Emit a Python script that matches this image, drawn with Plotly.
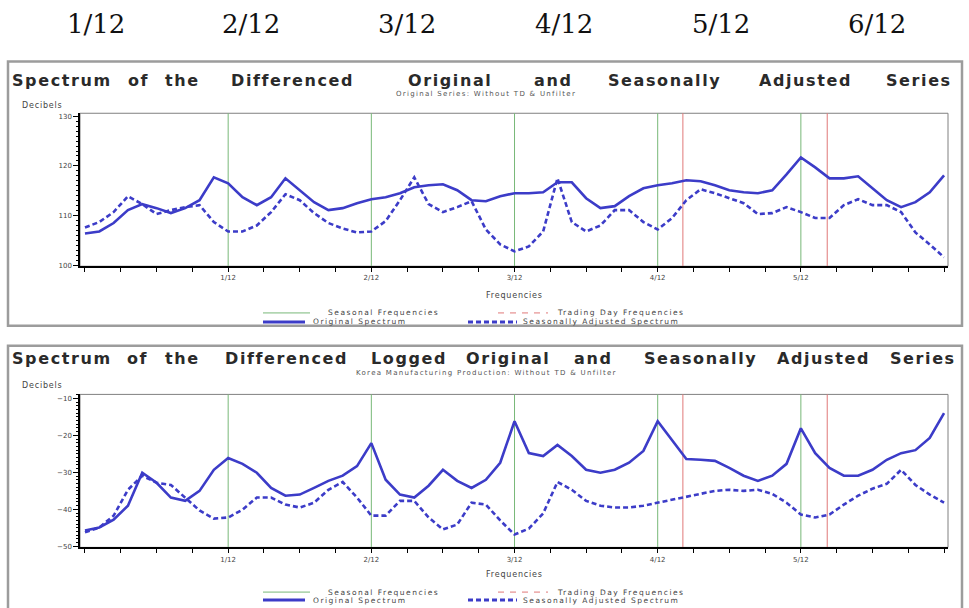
import plotly.graph_objects as go

# ---------------- data ----------------
freq = [round(k / 120, 6) for k in range(61)]

orig_top = [106.4, 106.8, 108.5, 111.1, 112.3, 111.5, 110.5, 111.5, 113.1, 117.7,
            116.5, 113.7, 112.1, 113.7, 117.5, 115.1, 112.7, 111.1, 111.5, 112.5,
            113.3, 113.7, 114.5, 115.7, 116.1, 116.3, 115.1, 113.1, 112.9, 113.9,
            114.5, 114.5, 114.7, 116.7, 116.7, 113.5, 111.5, 111.9, 113.9, 115.5,
            116.1, 116.5, 117.1, 116.9, 116.1, 115.1, 114.7, 114.5, 115.1, 118.3,
            121.7, 119.7, 117.5, 117.5, 117.9, 115.5, 113.1, 111.7, 112.7, 114.7,
            118.1]
sa_top = [107.6, 108.7, 110.7, 113.9, 112.3, 110.3, 111.1, 111.7, 112.1, 108.7,
          106.8, 106.8, 108.0, 110.7, 114.3, 113.1, 110.5, 108.5, 107.4, 106.6,
          106.8, 108.9, 113.1, 117.7, 112.3, 110.7, 111.7, 112.9, 107.2, 104.2,
          102.8, 103.8, 106.8, 117.5, 108.7, 106.8, 108.0, 111.1, 111.1, 108.7,
          107.2, 109.5, 113.1, 115.3, 114.5, 113.5, 112.5, 110.3, 110.5, 111.7,
          110.7, 109.5, 109.5, 112.1, 113.3, 112.1, 112.1, 110.7, 106.6, 104.2,
          101.6]
orig_bot = [-45.7, -44.9, -42.8, -39.0, -30.1, -32.8, -36.8, -37.7, -35.0, -29.3,
            -26.1, -27.7, -30.1, -34.2, -36.3, -36.0, -34.2, -32.3, -30.9, -28.3,
            -22.1, -32.0, -36.0, -36.8, -33.6, -29.3, -32.3, -34.2, -32.0, -27.4,
            -16.2, -24.8, -25.6, -22.6, -25.6, -29.3, -30.1, -29.3, -27.4, -24.2,
            -16.2, -21.3, -26.4, -26.6, -26.9, -28.8, -30.9, -32.3, -30.9, -27.7,
            -18.1, -24.8, -28.8, -30.9, -30.9, -29.3, -26.6, -24.8, -24.0, -20.7,
            -14.0]
sa_bot = [-46.2, -44.9, -41.7, -34.7, -30.9, -32.8, -33.4, -36.8, -40.3, -42.5,
          -42.2, -40.1, -36.8, -36.8, -38.7, -39.5, -38.2, -34.7, -32.6, -36.8,
          -41.7, -41.7, -37.7, -37.7, -42.2, -45.4, -44.1, -38.2, -38.7, -43.0,
          -46.8, -45.2, -41.1, -32.6, -34.7, -37.7, -39.0, -39.5, -39.5, -39.0,
          -38.2, -37.4, -36.8, -36.0, -35.0, -34.7, -35.0, -34.7, -35.8, -38.2,
          -41.4, -42.2, -41.4, -38.7, -36.3, -34.4, -33.1, -29.3, -33.4, -36.0,
          -38.2]

seasonal_freqs = [1/12, 2/12, 3/12, 4/12, 5/12]
td_freqs = [0.348, 0.432]

header_labels = ["1/12", "2/12", "3/12", "4/12", "5/12", "6/12"]
x_tick_vals = [k / 48 for k in range(25)]
x_tick_text = ["%d/12" % (k // 4) if (k % 4 == 0 and 0 < k < 24) else "" for k in range(25)]
y_ticks_top = [100, 110, 120, 130]
y_ticks_bot = [-50, -40, -30, -20, -10]

title_top = ["Spectrum", "of", "the", "Differenced", "Original", "and", "Seasonally", "Adjusted", "Series"]
title_bot = ["Spectrum", "of", "the", "Differenced", "Logged", "Original", "and", "Seasonally", "Adjusted", "Series"]
subtitle_top = "Original Series: Without TD & Unfilter"
subtitle_bot = "Korea Manufacturing Production: Without TD & Unfilter"

# ---------------- styling helpers ----------------
W, H = 969, 608
def px(x):
    return x / W
def py(y):
    return 1 - y / H

def spaced(txt, sp):
    return '<span style="letter-spacing:%spx">%s</span>' % (sp, txt)

BLUE = "#3c3cc8"
GREEN = "#78b878"
RED = "#e07878"
SANS = "DejaVu Sans"

fig = go.Figure()

for xa, ya, o, s in [("x", "y", orig_top, sa_top), ("x2", "y2", orig_bot, sa_bot)]:
    fig.add_trace(go.Scatter(x=freq, y=o, mode="lines", xaxis=xa, yaxis=ya,
                             line=dict(color=BLUE, width=2.6), showlegend=False,
                             hoverinfo="skip"))
    fig.add_trace(go.Scatter(x=freq, y=s, mode="lines", xaxis=xa, yaxis=ya,
                             line=dict(color=BLUE, width=2.6, dash="5px,3px"),
                             showlegend=False, hoverinfo="skip"))

shapes = []
annotations = []

panels = [
    dict(xa="x", ya="y", frame_top=61, frame_bot=327,
         title=title_top,
         title_x=[61.5, 138.5, 182.5, 292.5, 450, 553, 664, 805, 919], title_y=80,
         sub=subtitle_top, sub_y=94, dec_y=105, freq_y=296, leg_y1=314, leg_y2=323),
    dict(xa="x2", ya="y2", frame_top=347, frame_bot=640,
         title=title_bot,
         title_x=[61.5, 137.5, 182, 286.5, 408.5, 508.5, 593, 700, 823.5, 923], title_y=360,
         sub=subtitle_bot, sub_y=374, dec_y=387, freq_y=577, leg_y1=595, leg_y2=603),
]

for p in panels:
    xref_d = p["xa"] + " domain"
    yref_d = p["ya"] + " domain"
    # outer frame
    shapes.append(dict(type="rect", xref="paper", yref="paper",
                       x0=px(8), x1=px(962), y0=py(p["frame_bot"]), y1=py(p["frame_top"]),
                       line=dict(color="#9c9c9c", width=2.5), layer="below"))
    # plot area box
    shapes.append(dict(type="rect", xref=xref_d, yref=yref_d, x0=0, x1=1, y0=0, y1=1,
                       line=dict(color="#808080", width=1), layer="below"))
    # reference lines
    for f in seasonal_freqs:
        shapes.append(dict(type="line", xref=p["xa"], yref=yref_d, x0=f, x1=f, y0=0, y1=1,
                           line=dict(color=GREEN, width=1), layer="below"))
    for f in td_freqs:
        shapes.append(dict(type="line", xref=p["xa"], yref=yref_d, x0=f, x1=f, y0=0, y1=1,
                           line=dict(color=RED, width=1), layer="below"))
    # title words
    for w, cx in zip(p["title"], p["title_x"]):
        annotations.append(dict(text=spaced(w, 1.6), x=px(cx), y=py(p["title_y"]), xref="paper", yref="paper",
                                xanchor="center", yanchor="middle", showarrow=False,
                                font=dict(family=SANS, size=16, color="#2a2a2a", weight="bold")))
    annotations.append(dict(text=spaced(p["sub"], 1.3), x=px(486), y=py(p["sub_y"]), xref="paper", yref="paper",
                            xanchor="center", yanchor="middle", showarrow=False,
                            font=dict(family=SANS, size=7, color="#555")))
    annotations.append(dict(text=spaced("Decibels", 0.8), x=px(20), y=py(p["dec_y"]), xref="paper", yref="paper",
                            xanchor="left", yanchor="middle", showarrow=False,
                            font=dict(family=SANS, size=8, color="#444")))
    annotations.append(dict(text=spaced("Frequencies", 0.8), x=px(514), y=py(p["freq_y"]), xref="paper", yref="paper",
                            xanchor="center", yanchor="middle", showarrow=False,
                            font=dict(family=SANS, size=8, color="#444")))
    # legend
    y1, y2 = py(p["leg_y1"]), py(p["leg_y2"])
    shapes.append(dict(type="line", xref="paper", yref="paper", x0=px(263), x1=px(310), y0=y1, y1=y1,
                       line=dict(color=GREEN, width=1)))
    shapes.append(dict(type="line", xref="paper", yref="paper", x0=px(498), x1=px(548), y0=y1, y1=y1,
                       line=dict(color=RED, width=1, dash="6px,6px")))
    shapes.append(dict(type="line", xref="paper", yref="paper", x0=px(263), x1=px(305), y0=y2, y1=y2,
                       line=dict(color=BLUE, width=3)))
    shapes.append(dict(type="line", xref="paper", yref="paper", x0=px(468), x1=px(517), y0=y2, y1=y2,
                       line=dict(color=BLUE, width=3, dash="5px,3px")))
    for txt, lx, ly in [("Seasonal Frequencies", 326, p["leg_y1"]),
                        ("Trading Day Frequencies", 555, p["leg_y1"]),
                        ("Original Spectrum", 311, p["leg_y2"]),
                        ("Seasonally Adjusted Spectrum", 521, p["leg_y2"])]:
        annotations.append(dict(text=spaced(txt, 1.5), x=px(lx), y=py(ly), xref="paper", yref="paper",
                                xanchor="left", yanchor="middle", showarrow=False,
                                font=dict(family=SANS, size=7.5, color="#444")))

# header fractions
for lab, cx in zip(header_labels, [96, 251, 407, 564, 721, 877]):
    annotations.append(dict(text=lab, x=px(cx), y=py(23), xref="paper", yref="paper",
                            xanchor="center", yanchor="middle", showarrow=False,
                            font=dict(family="DejaVu Serif", size=26, color="#111")))

xaxis_common = dict(range=[-0.0029, 0.5023], tickvals=x_tick_vals, ticktext=x_tick_text,
                    ticks="outside", ticklen=4, tickcolor="black", tickwidth=1,
                    showline=True, linecolor="black", linewidth=1.5, showgrid=False,
                    zeroline=False, tickfont=dict(family=SANS, size=7, color="#444"),
                    domain=[px(80), px(948)])
yaxis_common = dict(ticks="outside", ticklen=5, tickcolor="black", tickwidth=1,
                    showline=True, linecolor="black", linewidth=1.5, showgrid=False,
                    zeroline=False, tickfont=dict(family=SANS, size=7, color="#444"),
                    minor=dict(ticks="outside", ticklen=2, dtick=1, tickcolor="black", showgrid=False))

fig.update_layout(
    width=W, height=H, autosize=False,
    margin=dict(l=0, r=0, t=0, b=0, pad=0),
    paper_bgcolor="white", plot_bgcolor="white",
    showlegend=False,
    xaxis=dict(anchor="y", **xaxis_common),
    xaxis2=dict(anchor="y2", **xaxis_common),
    yaxis=dict(anchor="x", domain=[py(267), py(113)], range=[99.8, 130.6],
               tickvals=y_ticks_top, **yaxis_common),
    yaxis2=dict(anchor="x2", domain=[py(550), py(396)], range=[-50.27, -8.93],
                tickvals=y_ticks_bot, **yaxis_common),
    shapes=shapes,
    annotations=annotations,
)

fig.write_html("out.html", config={"displayModeBar": False},
               post_script="document.body.style.margin='0px';")
